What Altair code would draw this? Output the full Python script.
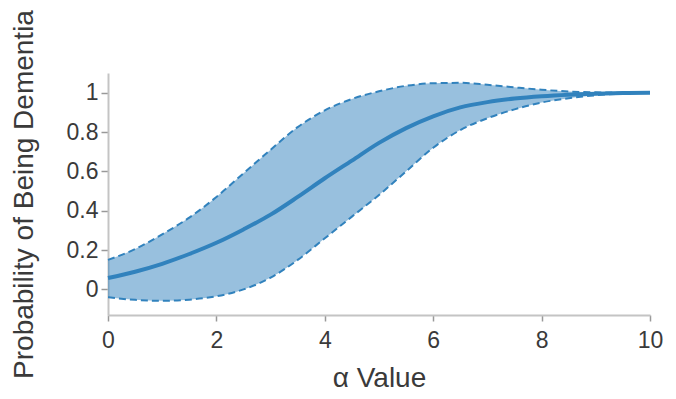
import altair as alt
import pandas as pd

alpha = [0, 0.5, 1, 1.5, 2, 2.5, 3, 3.5, 4, 4.5, 5, 5.5, 6, 6.5, 7, 7.5, 8, 8.5, 9, 9.5, 10]
mean = [0.058, 0.09, 0.13, 0.18, 0.237, 0.305, 0.38, 0.47, 0.565, 0.655, 0.745, 0.82, 0.88,
        0.925, 0.952, 0.97, 0.982, 0.99, 0.995, 0.998, 1.0]
upper = [0.15, 0.205, 0.28, 0.365, 0.47, 0.59, 0.71, 0.825, 0.91, 0.968, 1.007, 1.035, 1.048,
         1.05, 1.04, 1.027, 1.015, 1.006, 1.002, 1.0, 1.0]
lower = [-0.04, -0.053, -0.058, -0.052, -0.035, 0.0, 0.06, 0.15, 0.26, 0.37, 0.48, 0.6, 0.72,
         0.81, 0.87, 0.915, 0.95, 0.972, 0.987, 0.995, 1.0]

df = pd.DataFrame({"alpha": alpha, "mean": mean, "upper": upper, "lower": lower})

BLUE = "#3182bd"
FONT = "Liberation Sans"

xenc = alt.X("alpha:Q",
             scale=alt.Scale(domain=[0, 10], nice=False),
             axis=alt.Axis(values=[0, 2, 4, 6, 8, 10], title="α Value", tickSize=6,
                           labelPadding=8, titlePadding=12, format="d", labelFlush=False))

def yenc(field):
    return alt.Y(f"{field}:Q",
                 scale=alt.Scale(domain=[-0.13, 1.1], nice=False, zero=False),
                 axis=alt.Axis(values=[0, 0.2, 0.4, 0.6, 0.8, 1], title="Probability of Being Dementia",
                               tickSize=7, labelPadding=3, titlePadding=28, format=".1~f",
                               labelFlush=False))

base = alt.Chart(df)

band = base.mark_area(color=BLUE, opacity=0.5, interpolate="monotone").encode(
    x=xenc, y=yenc("lower"), y2="upper:Q")
up = base.mark_line(color=BLUE, strokeWidth=2, strokeDash=[7, 4], interpolate="monotone").encode(
    x=xenc, y=yenc("upper"))
lo = base.mark_line(color=BLUE, strokeWidth=2, strokeDash=[7, 4], interpolate="monotone").encode(
    x=xenc, y=yenc("lower"))
mid = base.mark_line(color=BLUE, strokeWidth=4, interpolate="monotone").encode(
    x=xenc, y=yenc("mean"))

chart = alt.layer(band, up, lo, mid).properties(
    width=542, height=242,
    autosize=alt.AutoSizeParams(type="none"),
    padding={"left": 100, "top": 65, "right": 16, "bottom": 76},
).configure_view(stroke=None).configure_axis(
    grid=False,
    domainColor="#c4c4c4",
    domainWidth=2,
    tickColor="#999999",
    tickWidth=1.5,
    labelFont=FONT,
    labelFontSize=23,
    labelColor="#3a3a3a",
    titleFont=FONT,
    titleFontSize=28,
    titleFontWeight="normal",
    titleColor="#3a3a3a",
)

chart.save("out.html", embed_options={"renderer": "svg", "actions": False})
